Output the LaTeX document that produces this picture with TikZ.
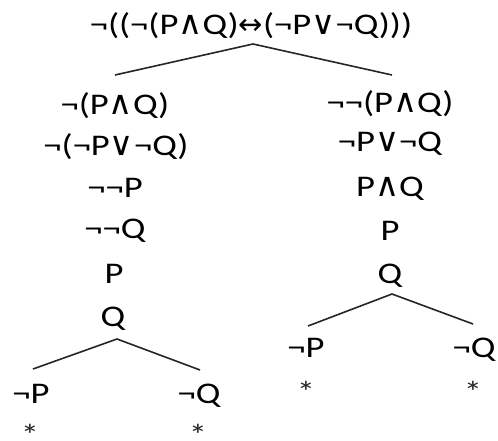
\documentclass[tikz,border=0pt]{standalone}
\usepackage{fontspec}
\setmainfont{Carlito}[FakeStretch=1.22]
\newfontfamily\symf{DejaVu Sans}
\newcommand{\AND}{{\symf\fontsize{33}{33}\selectfont ∧}}
\newcommand{\OR}{{\symf\fontsize{33}{33}\selectfont ∨}}
\newcommand{\IFF}{{\symf\fontsize{29}{29}\selectfont ↔}}
\begin{document}
\begin{tikzpicture}[x=1pt,y=-1pt,
  f/.style={inner sep=0pt,anchor=base,font=\fontsize{30}{30}\selectfont,text=black},
  st/.style={inner sep=0pt,anchor=base,font=\fontsize{30}{30}\selectfont,text=black!85},
  br/.style={draw=black!85,line width=1.6pt}]
\useasboundingbox[fill=white] (0,0) rectangle (498,441);
% root
\node[f] (root) at (251,35) {¬((¬(P\AND Q)\IFF(¬P\OR¬Q)))};
\coordinate (r0) at (253,44);
\coordinate (rl) at (115,75);
\coordinate (rr) at (392,75);
\draw[br] (rl) -- (r0) -- (rr);
% left branch
\node[f] (l1) at (115,115) {¬(P\AND Q)};
\node[f] (l2) at (116,156) {¬(¬P\OR¬Q)};
\node[f] (l3) at (115,197) {¬¬P};
\node[f] (l4) at (115,238) {¬¬Q};
\node[f] (l5) at (114,283) {P};
\node[f] (l6) at (113,326) {Q};
\coordinate (q0) at (117,339);
\coordinate (ql) at (33,369);
\coordinate (qr) at (200,370);
\draw[br] (ql) -- (q0) -- (qr);
\node[f] (l7) at (31,403) {¬P};
\node[f] (l8) at (199,403) {¬Q};
\node[st] (s1) at (30,430) {\raisebox{-0.5em}{*}};
\node[st] (s2) at (198,430) {\raisebox{-0.5em}{*}};
% right branch
\node[f] (r1) at (390,113) {¬¬(P\AND Q)};
\node[f] (r2) at (390,152) {¬P\OR¬Q};
\node[f] (r3) at (390,196) {P\AND Q};
\node[f] (r4) at (390,240) {P};
\node[f] (r5) at (390,283) {Q};
\coordinate (p0) at (392,294);
\coordinate (pl) at (308,326);
\coordinate (pr) at (473,324);
\draw[br] (pl) -- (p0) -- (pr);
\node[f] (r6) at (306,357) {¬P};
\node[f] (r7) at (474,357) {¬Q};
\node[st] (s3) at (306,387) {\raisebox{-0.5em}{*}};
\node[st] (s4) at (473,387) {\raisebox{-0.5em}{*}};
\end{tikzpicture}
\end{document}
